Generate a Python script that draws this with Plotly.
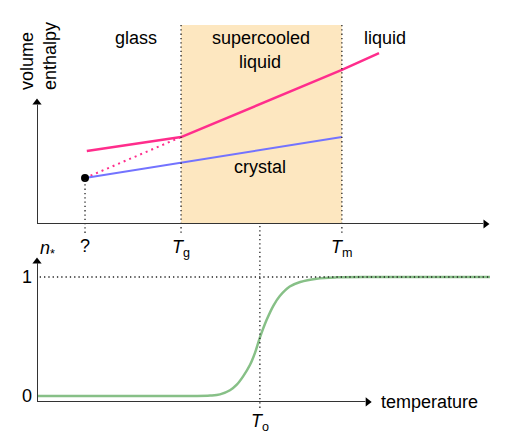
import plotly.graph_objects as go

# ---- data (temperature in arbitrary units, 0..100 across the axis) ----
T_unknown = 10.6
T_g = 31.8
T_m = 67.3
T_o = 49.2

# volume / enthalpy (arbitrary units)
liquid_T = [T_g, T_m, 75.5]
liquid_V = [43.7, 77.4, 85.9]
glass_T = [11.0, T_g]
glass_V = [36.7, 43.7]
glass_dotted_T = [T_unknown, T_g]
glass_dotted_V = [23.1, 43.7]
crystal_T = [T_unknown, T_m]
crystal_V = [23.1, 43.7]
dot_T = [T_unknown]
dot_V = [23.1]

# n_* curve
n_T = [0, 30.0, 35.0, 38.2, 40.4, 42.6, 44.1, 45.5, 47.0, 48.1, 49.2, 50.7, 52.2, 53.6, 55.8, 58.1, 61.7, 66.2, 75.0, 100.0]
n_val = [0, 0.0, 0.0, 0.004, 0.014, 0.048, 0.095, 0.165, 0.26, 0.36, 0.49, 0.64, 0.76, 0.84, 0.92, 0.958, 0.986, 0.997, 1.0, 1.0]

PINK = "rgb(255,45,140)"
BLUE = "rgb(115,115,255)"
GREEN = "rgb(135,192,135)"
SHADE = "rgb(253,231,192)"
AX = "#333333"
FONT = "Liberation Sans, Arial, Helvetica, sans-serif"

W, H = 513, 434
fig = go.Figure()

# top panel traces
fig.add_trace(go.Scatter(x=glass_dotted_T, y=glass_dotted_V, mode="lines",
                         line=dict(color=PINK, width=2, dash="2px,4px"), xaxis="x", yaxis="y"))
fig.add_trace(go.Scatter(x=glass_T, y=glass_V, mode="lines",
                         line=dict(color=PINK, width=2.5), xaxis="x", yaxis="y"))
fig.add_trace(go.Scatter(x=liquid_T, y=liquid_V, mode="lines",
                         line=dict(color=PINK, width=2.5), xaxis="x", yaxis="y"))
fig.add_trace(go.Scatter(x=crystal_T, y=crystal_V, mode="lines",
                         line=dict(color=BLUE, width=2), xaxis="x", yaxis="y"))
fig.add_trace(go.Scatter(x=dot_T, y=dot_V, mode="markers",
                         marker=dict(color="black", size=8), xaxis="x", yaxis="y", cliponaxis=False))

# bottom panel curve
fig.add_trace(go.Scatter(x=n_T, y=n_val, mode="lines", line=dict(color=GREEN, width=2.5, shape="spline", smoothing=1.0),
                         xaxis="x2", yaxis="y2", cliponaxis=False))

# axis arrows (markers at axis ends)
fig.add_trace(go.Scatter(x=[0], y=[61.0], mode="markers", marker=dict(symbol="triangle-up", size=8, color="black"),
                         xaxis="x", yaxis="y", cliponaxis=False))
fig.add_trace(go.Scatter(x=[99.0], y=[0], mode="markers", marker=dict(symbol="triangle-right", size=8, color="black"),
                         xaxis="x", yaxis="y", cliponaxis=False))
fig.add_trace(go.Scatter(x=[0], y=[1.13], mode="markers", marker=dict(symbol="triangle-up", size=8, color="black"),
                         xaxis="x2", yaxis="y2", cliponaxis=False))
fig.add_trace(go.Scatter(x=[73.0], y=[-0.05], mode="markers", marker=dict(symbol="triangle-right", size=8, color="black"),
                         xaxis="x2", yaxis="y2", cliponaxis=False))

shapes = []
# shaded supercooled region
shapes.append(dict(type="rect", xref="x", yref="y", x0=T_g, x1=T_m, y0=0, y1=100,
                   fillcolor=SHADE, line=dict(width=0), layer="below"))
# dotted verticals
dot_line = dict(color="#222222", width=1.3, dash="1.3px,3px")
ybot_top = 1 - 234 / H
for t in [T_g, T_m]:
    shapes.append(dict(type="line", xref="x", yref="paper", x0=t, x1=t, y0=1 - 25 / H, y1=ybot_top, line=dot_line))
shapes.append(dict(type="line", xref="x", yref="paper", x0=T_unknown, x1=T_unknown,
                   y0=1 - 180 / H, y1=ybot_top, line=dot_line))
shapes.append(dict(type="line", xref="x2", yref="paper", x0=T_o, x1=T_o,
                   y0=1 - 226 / H, y1=1 - 408 / H, line=dot_line))
# dotted horizontal at n=1
shapes.append(dict(type="line", xref="x2", yref="y2", x0=0.6, x1=100, y0=1, y1=1, line=dot_line))
# axis lines
shapes.append(dict(type="line", xref="x", yref="y", x0=0, x1=0, y0=0, y1=60, line=dict(color=AX, width=2)))
shapes.append(dict(type="line", xref="x", yref="y", x0=0, x1=98.5, y0=0, y1=0, line=dict(color=AX, width=2)))
shapes.append(dict(type="line", xref="x2", yref="y2", x0=0, x1=0, y0=-0.05, y1=1.12, line=dict(color=AX, width=2)))
shapes.append(dict(type="line", xref="x2", yref="y2", x0=0, x1=72.5, y0=-0.05, y1=-0.05, line=dict(color=AX, width=2)))

f18 = dict(family=FONT, size=18, color="black")
ann = []
def A(text, x, y, xref="x", yref="y", **kw):
    d = dict(text=text, x=x, y=y, xref=xref, yref=yref, showarrow=False, font=f18,
             xanchor="center", yanchor="middle")
    d.update(kw)
    ann.append(d)

A("glass", 21.9, 93.5)
A("supercooled", 49.4, 93.5)
A("liquid", 49.2, 81.4)
A("liquid", 76.8, 93.5)
A("crystal", 49.2, 28.6)
A("?", T_unknown, 1 - 246 / H, yref="paper")
A("<i>T</i><sub>g</sub>", T_g, 1 - 248 / H, yref="paper")
A("<i>T</i><sub>m</sub>", T_m, 1 - 248 / H, yref="paper")
A("<i>T</i><sub>o</sub>", T_o, 1 - 422 / H, xref="x2", yref="paper")
A("<i>n</i><sub>*</sub>", 2.3, 1 - 249 / H, xref="x2", yref="paper")
A("1", 27 / W, 1, xref="paper", yref="y2")
A("0", 27 / W, 0, xref="paper", yref="y2")
A("temperature", 75.5, -0.05, xref="x2", yref="y2", xanchor="left")
A("volume", 27 / W, 1 - 92 / H, xref="paper", yref="paper", textangle=-90, yanchor="bottom")
A("enthalpy", 50 / W, 1 - 92 / H, xref="paper", yref="paper", textangle=-90, yanchor="bottom")

ax_common = dict(visible=False, showgrid=False, zeroline=False, fixedrange=True)
fig.update_layout(
    width=W, height=H, margin=dict(l=0, r=0, t=0, b=0),
    paper_bgcolor="white", plot_bgcolor="rgba(0,0,0,0)", showlegend=False,
    xaxis=dict(domain=[37 / W, 490 / W], range=[0, 100], anchor="y", **ax_common),
    yaxis=dict(domain=[1 - 224 / H, 1 - 25 / H], range=[0, 100], anchor="x", **ax_common),
    xaxis2=dict(domain=[37 / W, 490 / W], range=[0, 100], anchor="y2", **ax_common),
    yaxis2=dict(domain=[1 - 402 / H, 1 - 257 / H], range=[-0.0504, 1.168], anchor="x2", **ax_common),
    shapes=shapes, annotations=ann,
)
fig.write_html("out.html")
